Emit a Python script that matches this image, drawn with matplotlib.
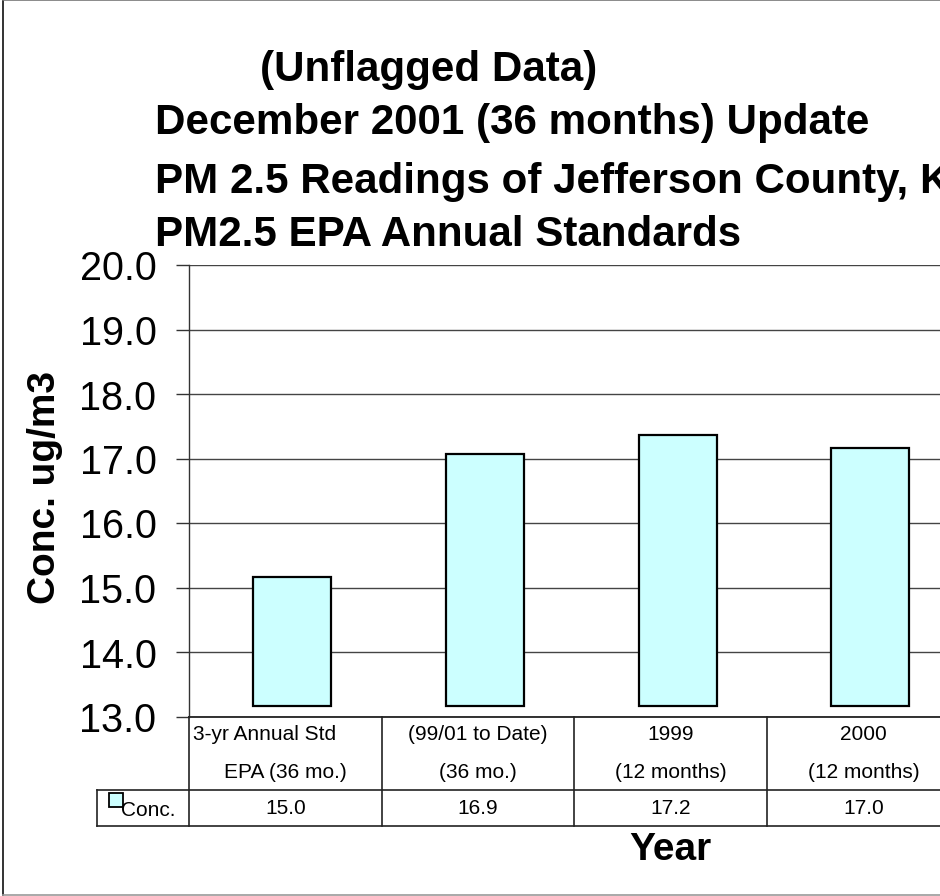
import matplotlib
matplotlib.use('Agg')
from matplotlib import pyplot as plt
from matplotlib import transforms
from matplotlib.lines import Line2D
from matplotlib.patches import Rectangle
import numpy as np

plt.rcParams['font.family'] = ['Liberation Sans', 'DejaVu Sans']

title_lines = ['(Unflagged Data)',
               'December 2001 (36 months) Update',
               'PM 2.5 Readings of Jefferson County, KY',
               'PM2.5 EPA Annual Standards']
cat_line1 = ['3-yr Annual Std', '(99/01 to Date)', '1999', '2000']
cat_line2 = ['EPA (36 mo.)', '(36 mo.)', '(12 months)', '(12 months)']
conc = [15.0, 16.9, 17.2, 17.0]
series_name = 'Conc.'
n_slots = 5
bar_lift = 0.17

W, H = 940, 896
fig = plt.figure(figsize=(W / 100, H / 100), dpi=100)


def fx(x):
    return x / W


def fy(y):
    return 1 - y / H


ax = fig.add_axes([fx(189), fy(717), fx(1152.5) - fx(189), fy(265.5) - fy(717)])

x = np.arange(len(conc))
ax.bar(x + 0.036, np.array(conc) - 13.0, bottom=13.0 + bar_lift, width=0.405,
       color='#CCFFFF', edgecolor='black', linewidth=1.6, zorder=3)

ax.set_xlim(-0.5, n_slots - 0.5)
ax.set_ylim(13.0, 20.0)
ax.set_yticks(np.arange(13, 21, 1))
ax.set_yticklabels(['%.1f' % v for v in np.arange(13, 21, 1)])
ax.tick_params(axis='y', labelsize=28.5, length=9.4, width=1.0, pad=14, color='#333333')
ax.tick_params(axis='x', bottom=False, labelbottom=False)
ax.yaxis.grid(True, color='#444444', linewidth=1.0)
ax.set_axisbelow(True)
for s in ['top', 'right']:
    ax.spines[s].set_visible(False)
ax.spines['left'].set_color('#333333')
ax.spines['bottom'].set_color('#222222')
ax.spines['left'].set_linewidth(1.0)
ax.spines['bottom'].set_linewidth(1.3)

# data table under the axis
tr = transforms.blended_transform_factory(ax.transData, fig.transFigure)
for i in range(n_slots + 1):
    ax.add_line(Line2D([i - 0.5, i - 0.5], [fy(717), fy(826)], transform=tr,
                       color='#222222', linewidth=1.2, clip_on=False))
for yy in [790, 826]:
    fig.add_artist(Line2D([fx(97), 1.0], [fy(yy), fy(yy)], color='#222222', linewidth=1.2))
fig.add_artist(Line2D([fx(97), fx(97)], [fy(790), fy(826)], color='#222222', linewidth=1.2))

for i in range(len(conc)):
    if i == 0:
        ax.text(-0.5 + 0.02, fy(734), cat_line1[i], transform=tr, ha='left', va='center', fontsize=15)
    else:
        ax.text(i, fy(734), cat_line1[i], transform=tr, ha='center', va='center', fontsize=15)
    ax.text(i, fy(772), cat_line2[i], transform=tr, ha='center', va='center', fontsize=15)
    ax.text(i, fy(808), '%.1f' % conc[i], transform=tr, ha='center', va='center', fontsize=15)

fig.add_artist(Rectangle((fx(109), fy(806.5)), fx(13.5), fy(793) - fy(806.5),
                         facecolor='#CCFFFF', edgecolor='black', linewidth=1.3))
fig.text(fx(121), fy(810), series_name, ha='left', va='center', fontsize=15)

# titles
title_pos = [(260, 81), (155, 134), (155, 193), (155, 246)]
for t, (tx, ty) in zip(title_lines, title_pos):
    fig.text(fx(tx), fy(ty), t, ha='left', va='baseline', fontsize=30.3, fontweight='bold')

fig.text(fx(45), fy(487), 'Conc. ug/m3', rotation=90, ha='center', va='center',
         fontsize=28, fontweight='bold')
fig.text(fx(670.5), fy(850), 'Year', ha='center', va='center', fontsize=28, fontweight='bold')

# chart frame
fig.add_artist(Line2D([fx(2.7), fx(2.7)], [fy(0.5), fy(895)], color='#111111', linewidth=1.2))
fig.add_artist(Line2D([fx(2.7), 1.0], [fy(895), fy(895)], color='#999999', linewidth=1.2))
fig.add_artist(Line2D([fx(2.7), 1.0], [fy(0.5), fy(0.5)], color='#777777', linewidth=1.2))

fig.savefig('out.png', dpi=100)
